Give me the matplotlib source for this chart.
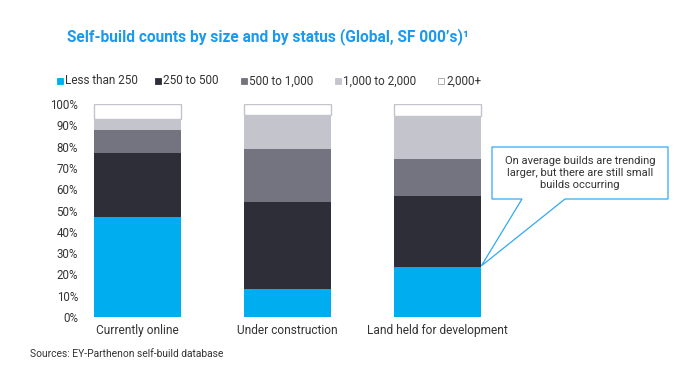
import numpy as np
import matplotlib.pyplot as plt
from matplotlib.patches import Polygon, Rectangle

# Data (shares in %)
categories = ['Currently online', 'Under construction', 'Land held for development']
size_bands = ['Less than 250', '250 to 500', '500 to 1,000', '1,000 to 2,000', '2,000+']
less_250 = [47, 13, 23.5]
from_250_500 = [30, 41, 33.5]
from_500_1000 = [11, 25, 17]
from_1000_2000 = [5, 16, 20.5]
over_2000 = [7, 5, 5.5]

colors = ['#00AEEF', '#2E2E38', '#747480', '#C4C4CD', '#FFFFFF']
edges = ['none', 'none', 'none', 'none', '#C4C4CD']

plt.rcParams['font.family'] = ['Roboto', 'DejaVu Sans']

W, H = 690, 392
fig = plt.figure(figsize=(W / 100, H / 100), dpi=100)

def fx(px):
    return px / W

def fy(py):
    return 1 - py / H

# Axes placed in pixel terms
ax = fig.add_axes([fx(85), fy(317), fx(605), 213 / H])
ax.set_xlim(-0.35, 3.68)
ax.set_ylim(0, 100)

x = np.arange(len(categories))
series = [less_250, from_250_500, from_500_1000, from_1000_2000, over_2000]
bottom = np.zeros(len(categories))
for vals, c, e in zip(series, colors, edges):
    ax.bar(x, vals, bottom=bottom, width=0.58, color=c, edgecolor=e, linewidth=1)
    bottom += np.array(vals)

for s in ax.spines.values():
    s.set_visible(False)
ax.set_yticks(np.arange(0, 101, 10))
ax.set_yticklabels([f'{v}%' for v in range(0, 101, 10)])
ax.tick_params(axis='y', length=0, pad=5, labelsize=8.3, labelcolor='#333333')
ax.set_xticks([])
for xi, cat in zip(x, categories):
    ax.text(xi, -3.5, cat, ha='center', va='top', fontsize=8.6, color='#333333')

# Title
fig.text(fx(67), fy(37), "Self-build counts by size and by status (Global, SF 000\u2019s)\u00b9",
         fontsize=11.2, fontweight='bold', color='#1A9AEF', va='center', ha='left')

# Legend
leg_x = [60, 158, 244, 338, 441]
for lx, lab, c in zip(leg_x, size_bands, colors):
    fig.add_artist(Rectangle((fx(lx - 3), fy(84)), 6 / W, 6 / H, transform=fig.transFigure,
                             facecolor=c, edgecolor='#A0A0A8' if c == '#FFFFFF' else c, linewidth=0.6))
    fig.text(fx(lx + 5), fy(81), lab, fontsize=8.5, color='#333333', va='center', ha='left')

# Callout
fig.canvas.draw()
tip_disp = ax.transData.transform((2 + 0.29, less_250[2] + 0.5))
tip = fig.transFigure.inverted().transform(tip_disp)
box = [(492, 147), (668, 147), (668, 199), (565, 199)]
box_end = [(522, 199), (492, 199)]
verts = [(fx(a), fy(b)) for a, b in box] + [tuple(tip)] + [(fx(a), fy(b)) for a, b in box_end]
fig.add_artist(Polygon(verts, closed=True, transform=fig.transFigure,
                       facecolor='white', edgecolor='#33A8F5', linewidth=0.9))
fig.text(fx(580), fy(173), 'On average builds are trending\nlarger, but there are still small\nbuilds occurring',
         fontsize=8, color='#333333', ha='center', va='center', linespacing=1.25)

# Source
fig.text(fx(30), fy(354), 'Sources: EY-Parthenon self-build database', fontsize=7.4,
         color='#333333', va='center', ha='left')

fig.savefig('out.png', dpi=100)
